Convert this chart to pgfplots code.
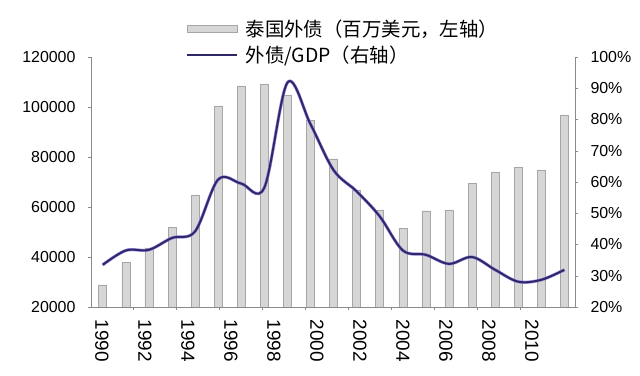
\documentclass[border=0pt]{standalone}
\usepackage{fontspec}
\setmainfont{Liberation Sans}
\newfontfamily\cjk{Noto Sans CJK SC}
\usepackage{pgfplots}
\pgfplotsset{compat=1.18}
\definecolor{barfill}{HTML}{D6D6D6}
\definecolor{bardraw}{HTML}{A6A6A6}
\definecolor{linedark}{HTML}{2E2868}
\definecolor{linelight}{HTML}{8C7EE0}
\definecolor{axgray}{HTML}{8A8A8A}
\pgfplotstableread{
year debt
1990 28800
1991 37700
1992 43600
1993 51700
1994 64800
1995 100400
1996 108400
1997 109000
1998 104800
1999 94800
2000 79200
2001 66800
2002 58800
2003 51500
2004 58400
2005 58800
2006 69500
2007 73900
2008 75900
2009 74800
2010 96800
}\debttable
\pgfplotstableread{
year ratio
1990 33.5
1991 38.1
1992 38.3
1993 42.1
1994 44.2
1995 60.8
1996 59.5
1997 58.2
1998 91.8
1999 78.5
2000 63.8
2001 57.0
2002 49.0
2003 38.1
2004 36.7
2005 33.8
2006 36.0
2007 31.9
2008 28.1
2009 28.7
2010 31.9
}\ratiotable
\begin{document}
\begin{tikzpicture}
\pgfplotsset{
  common/.style={
    scale only axis, width=484bp, height=250bp,
    at={(0,0)}, anchor=south west,
    xmin=1989.49, xmax=2010.46,
    axis line style={axgray, line width=0.6pt},
    tick style={axgray, line width=0.5pt},
    tick align=outside,
    major tick length=3bp,
    minor tick length=3bp,
    scaled x ticks=false, scaled y ticks=false,
  }
}
\begin{axis}[
  common,
  ymin=20000, ymax=120000,
  ytick={20000,40000,60000,80000,100000,120000},
  yticklabels={20000,40000,60000,80000,100000,120000},
  yticklabel style={font=\fontsize{16}{16}\selectfont, xshift=-9bp},
  axis y line*=left,
  axis x line*=bottom,
  xtick={1989.96,1991.823,1993.686,1995.549,1997.412,1999.275,2001.138,2003.001,2004.864,2006.727,2008.59},
  xticklabels={1990,1992,1994,1996,1998,2000,2002,2004,2006,2008,2010},
  major x tick style={draw=none},
  xticklabel style={rotate=-90, anchor=west, font=\fontsize{19}{19}\selectfont},
  xticklabel shift=6bp,
  minor xtick={1991.31,1993.17,1995.04,1996.90,1998.76,2000.63,2002.49,2004.35,2006.22,2008.08},
  ybar, bar width=8bp,
]
\addplot[fill=barfill, draw=bardraw, line width=0.6pt] table[x=year, y=debt] {\debttable};
\end{axis}
\begin{axis}[
  common,
  ymin=20, ymax=100,
  ytick={20,30,40,50,60,70,80,90,100},
  yticklabels={20\%,30\%,40\%,50\%,60\%,70\%,80\%,90\%,100\%},
  yticklabel style={font=\fontsize{16}{16}\selectfont, xshift=9bp},
  axis y line*=right,
  axis x line=none,
  legend style={at={(0.19,1.165)}, anchor=north west, draw=none, fill=none,
    font=\cjk\fontsize{19.5}{21}\selectfont, row sep=4bp, column sep=5bp,
    cells={anchor=west}},
]
\addlegendimage{legend image code/.code={\draw[fill=barfill, draw=bardraw, line width=0.6pt] (0bp,-3.5bp) rectangle (50bp,3.5bp);}}
\addlegendentry{泰国外债（百万美元，左轴）}
\addplot[linelight, line width=3.2pt, smooth, tension=0.55, opacity=0.85, forget plot] table[x=year, y=ratio] {\ratiotable};
\addplot[linedark, line width=2pt, smooth, tension=0.55,
  legend image code/.code={\draw[linedark, line width=2.5pt] (0bp,0bp) -- (50bp,0bp);}] table[x=year, y=ratio] {\ratiotable};
\addlegendentry{外债/GDP（右轴）}
\end{axis}
\pgfresetboundingbox
\path[use as bounding box] (-91bp,-69bp) rectangle (549bp,307bp);
\end{tikzpicture}
\end{document}
